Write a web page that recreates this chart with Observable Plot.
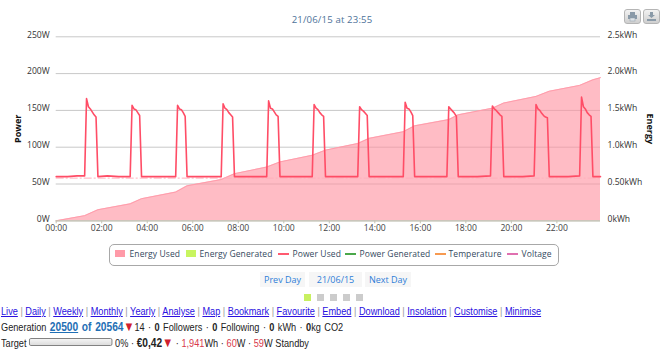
<!DOCTYPE html>
<html><head><meta charset="utf-8">
<script src="https://cdn.jsdelivr.net/npm/d3@7"></script>
<script src="https://cdn.jsdelivr.net/npm/@observablehq/plot@0.6"></script>
<style>
html,body{margin:0;padding:0;background:#fff;overflow:hidden}
#page{position:relative;width:664px;height:353px;overflow:hidden;font-family:"Liberation Sans",Arial,sans-serif;color:#222}
#chart{position:absolute;left:0;top:0}
#chart svg{display:block}
.abs{position:absolute;white-space:nowrap}
#title{left:0;width:664px;top:13px;text-align:center;font:9.6px "Open Sans",sans-serif;color:#4d7299;letter-spacing:.15px}
.tool{position:absolute;top:9px;width:15px;height:13px;border:1px solid #b5b5b5;border-radius:3px;background:linear-gradient(#f2f2f2,#cfcfcf)}
.tool svg{position:absolute;left:2px;top:1px}
#legend{left:108.5px;top:244px;width:448px;height:20px;border:1px solid #a8a8a8;border-radius:5px;font:8.5px "Open Sans",sans-serif;color:#34495e}
#legend span{position:absolute;top:3px;letter-spacing:.1px}
#legend i{position:absolute;display:block}
.btn{position:absolute;top:272px;height:15px;background:#f6f6f6;font:9px/15px "Open Sans",sans-serif;color:#2f7ed8;text-align:center}
.sq{position:absolute;top:294px;width:7px;height:7px;background:#ccc}
.row{position:absolute;left:1px;white-space:nowrap;font-size:10.8px;line-height:14px;transform:scaleX(.85);transform-origin:0 0}
.row a{color:#2a10e0;text-decoration:underline}
.row .s{color:#999}
.wide{word-spacing:1px}
.wide3{word-spacing:.1px}
.blue{color:#1f6fb5;font-weight:bold;font-size:12px}
.red{color:#d8394b}
.tri{color:#d0202e;font-size:13px;line-height:12px}
#bar{display:inline-block;width:96px;height:6px;border:1px solid #777;border-radius:2px;background:linear-gradient(#f4f4f4,#ddd);vertical-align:1px}
</style></head><body>
<div id="page">
<div id="chart"></div>
<div id="title" class="abs">21/06/15 at 23:55</div>
<div class="tool" style="left:624px"><svg width="11" height="11"><rect x="3" y="1" width="5" height="3" fill="#8a9aa8"/><rect x="1" y="4" width="9" height="4" fill="#8a9aa8"/><rect x="3" y="7" width="5" height="3" fill="#dfe4e8" stroke="#8a9aa8" stroke-width=".5"/></svg></div>
<div class="tool" style="left:643px"><svg width="11" height="11"><path d="M4 1h3v3h2L5.500 7 2 4h2z" fill="#8a9aa8"/><rect x="1" y="8" width="9" height="2" fill="#8a9aa8"/></svg></div>
<div id="legend" class="abs">
<i style="left:5px;top:5px;width:10px;height:7px;background:#ff9aa8"></i><span style="left:20px">Energy Used</span>
<i style="left:76px;top:5px;width:10px;height:7px;background:#c8f55f"></i><span style="left:90px">Energy Generated</span>
<i style="left:168px;top:8px;width:11px;height:2px;background:#ff5a70"></i><span style="left:183px">Power Used</span>
<i style="left:235px;top:8px;width:11px;height:2px;background:#4aa84a"></i><span style="left:250px">Power Generated</span>
<i style="left:325px;top:8px;width:11px;height:2px;background:#f79a50"></i><span style="left:339px">Temperature</span>
<i style="left:397px;top:8px;width:11px;height:2px;background:#e070b0"></i><span style="left:412px">Voltage</span>
</div>
<div class="btn" style="left:260px;width:45px">Prev Day</div>
<div class="btn" style="left:309px;width:53px">21/06/15</div>
<div class="btn" style="left:365px;width:46px">Next Day</div>
<div class="sq" style="left:304px;background:#c8f060"></div>
<div class="sq" style="left:317px"></div>
<div class="sq" style="left:330px"></div>
<div class="sq" style="left:343px"></div>
<div class="sq" style="left:356px"></div>
<div class="row" style="top:304px"><a>Live</a> <span class="s">|</span> <a>Daily</a> <span class="s">|</span> <a>Weekly</a> <span class="s">|</span> <a>Monthly</a> <span class="s">|</span> <a>Yearly</a> <span class="s">|</span> <a>Analyse</a> <span class="s">|</span> <a>Map</a> <span class="s">|</span> <a>Bookmark</a> <span class="s">|</span> <a>Favourite</a> <span class="s">|</span> <a>Embed</a> <span class="s">|</span> <a>Download</a> <span class="s">|</span> <a>Insolation</a> <span class="s">|</span> <a>Customise</a> <span class="s">|</span> <a>Minimise</a></div>
<div class="row wide" style="top:320px">Generation <span class="blue"><u>20500</u> of 20564</span><span class="tri">▼</span>14 · <b>0</b> Followers · <b>0</b> Following · <b>0</b> kWh · <b>0</b>kg CO2</div>
<div class="row wide3" style="top:336px">Target <span id="bar"></span> 0% · <b style="font-size:12px">€0,42</b><span class="tri">▼</span> · <span class="red">1,941</span>Wh · <span class="red">60</span>W · <span class="red">59</span>W Standby</div>
</div>
<script>
const powerTimes = [
"00:00","00:30","00:55",
"01:15","01:20","01:25","01:30","01:35","01:40","01:45","01:50","02:15","02:45",
"03:15","03:20","03:25","03:30","03:35","03:40","03:45","04:30",
"05:15","05:20","05:25","05:30","05:35","05:40","05:45","06:30",
"07:15","07:20","07:25","07:30","07:35","07:40","07:45","07:50","08:30",
"09:15","09:20","09:25","09:30","09:35","09:40","09:45","09:50","10:30",
"11:15","11:20","11:25","11:30","11:35","11:40","11:45","11:50","12:30",
"13:15","13:20","13:25","13:30","13:35","13:40","13:45","14:30",
"15:15","15:20","15:25","15:30","15:35","15:40","15:45","16:30",
"17:10","17:15","17:20","17:25","17:30","17:35","17:40","18:30",
"19:05","19:10","19:15","19:20","19:25","19:30","19:35","19:40","20:30",
"21:00","21:05","21:10","21:15","21:20","21:25","21:30","21:35","21:40","22:30",
"23:00","23:05","23:10","23:15","23:20","23:25","23:30","23:35","23:55"];
const powerWatts = [
60,60,61,
61,166,155,152,148,144,141,60,61,60,
60,157,152,151,147,143,60,60,
60,157,152,151,147,142,60,60,
60,159,153,151,147,144,141,60,60,
60,163,153,152,148,144,142,60,60,
60,158,153,151,147,144,142,60,60,
60,155,151,149,146,143,60,60,
60,161,153,152,148,143,60,60,
60,155,152,149,146,142,60,60,
61,156,152,150,147,144,142,60,60,
61,158,152,150,146,143,141,140,60,60,
61,168,155,152,147,144,142,60,60];
const energyTimes = ["00:00","01:15","01:50","03:15","03:45","05:15","05:45","07:15","07:50","09:15","09:50","11:15","11:50","13:15","13:45","15:15","15:45","17:15","17:40","19:10","19:40","21:05","21:40","23:00","23:35","23:55"];
const energyKWh = [0,0.07,0.15,0.23,0.30,0.39,0.475,0.56,0.64,0.73,0.80,0.89,0.96,1.05,1.12,1.21,1.29,1.375,1.44,1.53,1.60,1.69,1.76,1.84,1.915,1.945];
const standbyWatts = 58;
const leftTicks = [0,50,100,150,200,250];
const rightLabels = ["0kWh","0.50kWh","1.0kWh","1.5kWh","2.0kWh","2.5kWh"];
const hourTicks = [0,2,4,6,8,10,12,14,16,18,20,22];

const mins = s => { const [h,m] = s.split(":").map(Number); return h*60+m; };
const power = powerTimes.map((t,i)=>({t:mins(t),w:powerWatts[i]}));
const energy = energyTimes.map((t,i)=>({t:mins(t),w:energyKWh[i]*100}));
const pad = n => String(n).padStart(2,"0");
const font = "Open Sans, sans-serif";

const plot = Plot.plot({
  width:664,height:240,
  marginLeft:55.7,marginRight:64,marginTop:36.3,marginBottom:19.7,
  style:{fontFamily:font,fontSize:"8.6px",background:"transparent",color:"#333"},
  x:{domain:[0,1435],label:null},
  y:{domain:[0,250],label:null},
  marks:[
    Plot.ruleY(leftTicks,{stroke:"#c8c8c8",strokeWidth:1}),
    Plot.areaY(energy,{x:"t",y:"w",fill:"#ff8f9f",fillOpacity:.6,curve:"linear"}),
    Plot.lineY(energy,{x:"t",y:"w",stroke:"#ff9cab",strokeWidth:1}),
    Plot.ruleY([standbyWatts],{stroke:"#ffb0bc",strokeWidth:1,strokeDasharray:"8 2 2 2"}),
    Plot.lineY(power,{x:"t",y:"w",stroke:"#ff4d66",strokeWidth:1.6,curve:"linear"}),
    Plot.ruleY([0],{stroke:"#c4c4b4",strokeWidth:1.2}),
    Plot.axisX(hourTicks.map(h=>h*60),{tickSize:3,tickPadding:1,stroke:"#c4c4b4",tickFormat:d=>`${pad(d/60)}:00`,label:null,fill:"#444"}),
    Plot.axisY(leftTicks,{anchor:"left",tickSize:0,tickPadding:6.5,tickFormat:d=>`${d}W`,label:null,fill:"#333",dy:-2}),
    Plot.axisY(leftTicks,{anchor:"right",tickSize:0,tickPadding:7,tickFormat:(d,i)=>rightLabels[i],label:null,fill:"#333",dy:-2}),
    Plot.text(["Power"],{frameAnchor:"left",textAnchor:"middle",dx:-38,rotate:-90,fontWeight:"bold",fill:"#111",fontSize:9}),
    Plot.text(["Energy"],{frameAnchor:"right",textAnchor:"middle",dx:49,rotate:90,fontWeight:"bold",fill:"#111",fontSize:9})
  ]
});
document.getElementById("chart").append(plot);
</script>
</body></html>
